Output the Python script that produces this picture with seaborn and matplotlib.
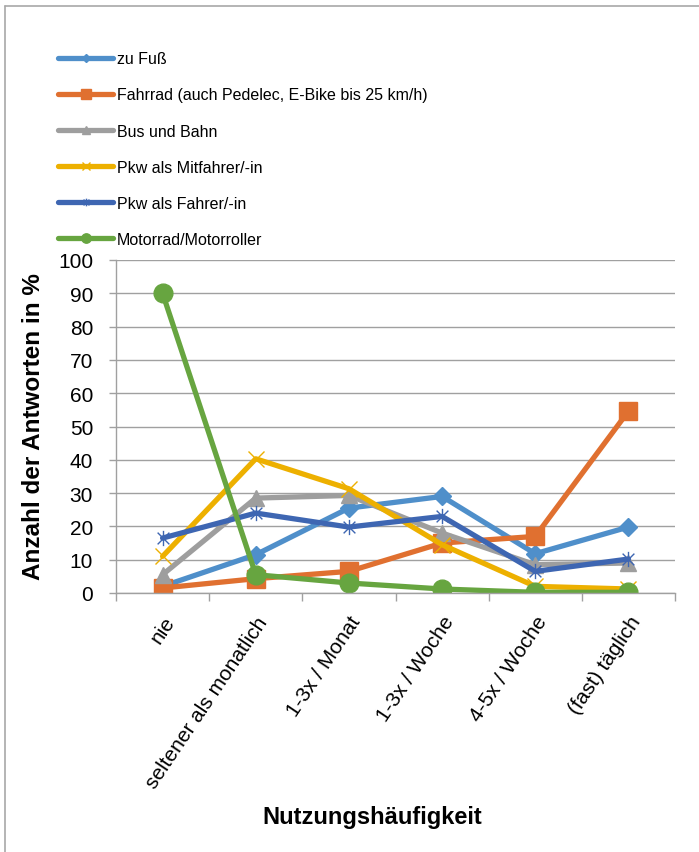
import numpy as np
import pandas as pd
import matplotlib
matplotlib.use("Agg")
import matplotlib.pyplot as plt
from matplotlib.path import Path
import seaborn as sns

sns.set_theme(style="white")
plt.rcParams["font.family"] = ["Liberation Sans", "DejaVu Sans"]
plt.rcParams["text.color"] = "black"
plt.rcParams["xtick.labelcolor"] = "black"
plt.rcParams["ytick.labelcolor"] = "black"

categories = ["nie", "seltener als monatlich", "1-3x / Monat",
              "1-3x / Woche", "4-5x / Woche", "(fast) täglich"]

series_names = ["zu Fuß", "Fahrrad (auch Pedelec, E-Bike bis 25 km/h)",
                "Bus und Bahn", "Pkw als Mitfahrer/-in",
                "Pkw als Fahrer/-in", "Motorrad/Motorroller"]

zu_fuss = [2, 11.5, 25.5, 29, 11.8, 19.8]
fahrrad = [1.5, 4.3, 6.5, 15, 17, 54.6]
bus_bahn = [5.5, 28.5, 29.3, 18, 8.5, 9]
mitfahrer = [11, 40.3, 31.3, 14.5, 2.0, 1.2]
fahrer = [16.5, 24, 19.8, 23, 6.5, 10.2]
motorrad = [90, 5.5, 3, 1.2, 0.2, 0.2]

values = [zu_fuss, fahrrad, bus_bahn, mitfahrer, fahrer, motorrad]

colors = ["#4F8FCA", "#E07030", "#9E9E9E", "#EDB000", "#3E66B2", "#67A540"]

# Excel-like star marker: X with a vertical bar
star = Path([(-1, -1), (1, 1), (-1, 1), (1, -1), (0, -1.3), (0, 1.3)],
            [Path.MOVETO, Path.LINETO, Path.MOVETO, Path.LINETO,
             Path.MOVETO, Path.LINETO])
markers = ["D", "s", "^", "x", star, "o"]
msizes = [9, 13, 12, 12, 11, 13.5]

rows = []
for name, vals in zip(series_names, values):
    for i, v in enumerate(vals):
        rows.append({"serie": name, "pos": i, "wert": v})
df = pd.DataFrame(rows)

fig = plt.figure(figsize=(6.99, 8.53), dpi=100)
ax = fig.add_axes([116 / 699, 1 - 594 / 853, (675 - 116) / 699, (594 - 261) / 853])

for name, col, mk, ms in zip(series_names, colors, markers, msizes):
    sub = df[df["serie"] == name]
    sns.lineplot(data=sub, x="pos", y="wert", color=col, linewidth=3.8,
                 marker=mk, markersize=ms, markeredgecolor=col,
                 markeredgewidth=1.0, label=name, ax=ax)

ax.set_xlim(-0.5, len(categories) - 0.5)
ax.set_ylim(0, 100)
ax.set_yticks(np.arange(0, 101, 10))
ax.tick_params(axis="y", labelsize=15, left=True, length=5, color="#A0A0A0",
               width=1, pad=11.5, labelcolor="black")
ax.set_xticks(np.arange(len(categories)))
ax.set_xticklabels(categories, rotation=56, ha="right", va="top",
                   rotation_mode="anchor", fontsize=15)
ax.tick_params(axis="x", which="major", bottom=False, length=0, pad=14,
               labelcolor="black")
ax.set_xticks(np.arange(-0.5, len(categories), 1), minor=True)
ax.tick_params(axis="x", which="minor", bottom=True, length=6,
               color="#A0A0A0", width=1)
ax.grid(axis="y", color="#A0A0A0", linewidth=1)
ax.set_axisbelow(True)
for s in ["top", "right"]:
    ax.spines[s].set_visible(False)
for s in ["left", "bottom"]:
    ax.spines[s].set_color("#A0A0A0")
    ax.spines[s].set_linewidth(1)
ax.set_xlabel("")
ax.set_ylabel("")

fig.text(34 / 699, 1 - 427 / 853, "Anzahl der Antworten in %", rotation=90,
         ha="center", va="center", fontsize=17.5, fontweight="bold",
         color="black")
fig.text(372 / 699, 1 - 818 / 853, "Nutzungshäufigkeit", ha="center",
         va="center", fontsize=17, fontweight="bold", color="black")

handles, labels = ax.get_legend_handles_labels()
ax.get_legend().remove()
fig.legend(handles, labels, loc="upper left",
           bbox_to_anchor=(44 / 699, 1 - 38 / 853), frameon=False,
           fontsize=11.5, handlelength=3.4, handletextpad=0.25,
           labelspacing=1.32, markerscale=0.5, labelcolor="black")

# outer chart frame (top and left edges visible)
fig.add_artist(plt.Line2D([5 / 699, 1], [1 - 7 / 853, 1 - 7 / 853],
                          color="#A8A8A8", linewidth=1.2))
fig.add_artist(plt.Line2D([5 / 699, 5 / 699], [0, 1 - 7 / 853],
                          color="#A8A8A8", linewidth=1.2))

fig.savefig("out.png", dpi=100)
